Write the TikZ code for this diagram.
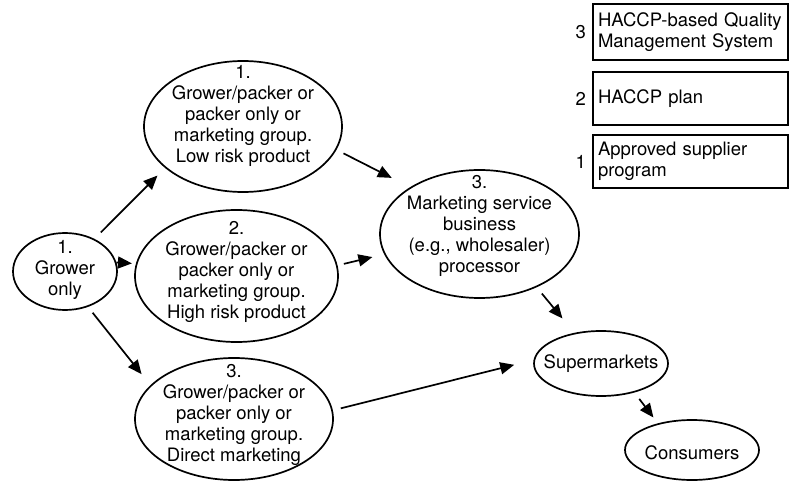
\documentclass[tikz,border=0pt]{standalone}
\usepackage{fontspec}
\setmainfont{TeX Gyre Heros}
\usetikzlibrary{shapes.geometric,arrows.meta}
\begin{document}
\begin{tikzpicture}[x=1pt,y=-1pt,
  oval/.style={ellipse, draw, line width=1.7pt, inner sep=0pt},
  otext/.style={align=center, font=\fontsize{18.5}{21}\selectfont, inner sep=0pt},
  qbox/.style={draw, line width=1.9pt, align=left, inner xsep=5pt, inner ysep=0pt,
    text width=185pt, font=\fontsize{18.5}{20.5}\selectfont,
    execute at begin node={\hyphenpenalty=10000\exhyphenpenalty=10000}},
  num/.style={font=\fontsize{18.5}{21}\selectfont, inner sep=0pt, label distance=6pt},
  arr/.style={line width=1.7pt, -{Triangle[length=14pt,width=12pt]}}
]
\useasboundingbox (0,0) rectangle (790,481);

% ellipses
\node[oval, minimum width=104pt, minimum height=77pt,
  label={[otext,yshift=1.5pt]center:{1.\\Grower\\only}}] (grower) at (65,271.5) {};
\node[oval, minimum width=198pt, minimum height=131pt,
  label={[otext,yshift=11pt]center:{1.\\Grower/packer or\\packer only or\\marketing group.\\Low risk product}}] (e1) at (243,126.5) {};
\node[oval, minimum width=203pt, minimum height=132pt,
  label={[otext,yshift=4pt]center:{2.\\Grower/packer or\\packer only or\\marketing group.\\High risk product}}] (e2) at (236.5,276) {};
\node[oval, minimum width=198pt, minimum height=122pt,
  label={[otext,yshift=4.5pt]center:{3.\\Grower/packer or\\packer only or\\marketing group.\\Direct marketing}}] (e3) at (234,419) {};
\node[oval, minimum width=199pt, minimum height=128pt,
  label={[otext,yshift=8pt]center:{3.\\Marketing service\\business\\(e.g., wholesaler)\\processor}}] (ms) at (479.5,234) {};
\node[oval, minimum width=134pt, minimum height=65pt,
  label={[otext]center:{Supermarkets}}] (sup) at (601,363.5) {};
\node[oval, minimum width=134pt, minimum height=60pt,
  label={[otext,yshift=-3pt]center:{Consumers}}] (con) at (692,450) {};

% boxes
\node[qbox, minimum height=56pt, label={[num]left:3}] (b3) at (690.5,32) {HACCP-based Quality\\Management System};
\node[qbox, minimum height=53pt, label={[num]left:2}] (b2) at (690.5,98.5) {HACCP plan};
\node[qbox, minimum height=53pt, label={[num]left:1}] (b1) at (690.5,161.5) {Approved supplier\\program};

% arrows
\draw[arr, shorten <=9pt, shorten >=10.7pt] (grower.48) -- (e1.208);
\draw[arr, shorten <=0pt, shorten >=4pt] (grower.10) -- (e2.173);
\draw[arr, shorten <=7.4pt, shorten >=14.1pt] (grower.303) -- (e3.158);
\draw[arr, shorten <=7.9pt, shorten >=20.5pt] (e1.346) -- (ms.146);
\draw[arr, shorten <=6.5pt, shorten >=12.1pt] (e2.6) -- (ms.192);
\draw[arr, shorten <=8.1pt, shorten >=18.6pt] (ms.317) -- (sup.131);
\draw[arr, shorten <=8.2pt, shorten >=19.9pt] (e3.5) -- (sup.177);
\draw[arr, shorten <=8pt, shorten >=7.3pt] (sup.319) -- (con.142);
\end{tikzpicture}
\end{document}
